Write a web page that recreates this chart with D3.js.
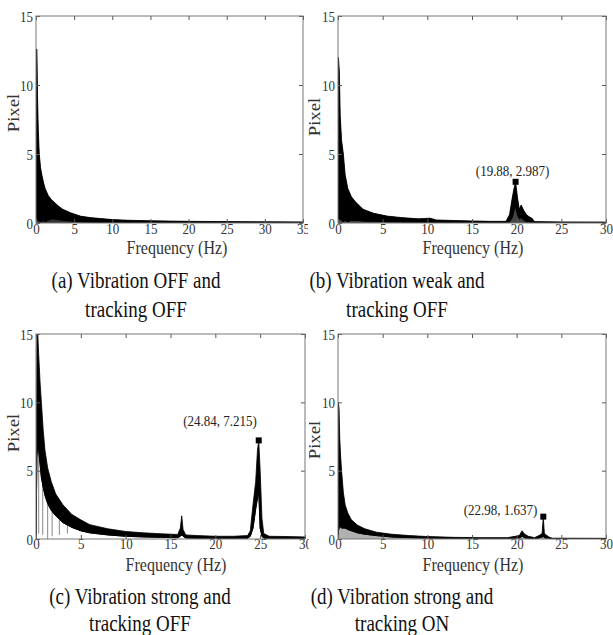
<!DOCTYPE html>
<html>
<head>
<meta charset="utf-8">
<script src="https://cdn.jsdelivr.net/npm/d3@7"></script>
<style>
  body { margin: 0; background: #fff; }
</style>
</head>
<body>
<script>
// (a) vibration OFF, tracking OFF  -- envelope of the spectrum
var freqA = [0, 0.05, 0.12, 0.2, 0.3, 0.43, 0.6, 0.8, 1.0, 1.2, 1.6, 2.0, 2.5, 3.0, 3.5, 4.5, 5.8, 7, 8.5, 10, 12, 15, 20, 25, 30, 35];
var hiA   = [0, 12.6, 12.6, 9.2, 6.8, 5.0, 4.0, 3.4, 2.9, 2.5, 2.0, 1.7, 1.45, 1.2, 1.0, 0.75, 0.5, 0.4, 0.32, 0.25, 0.2, 0.16, 0.12, 0.1, 0.09, 0.08];
var loA   = [0, 0.4, 0.4, 0.3, 0.2, 0.1, 0.1, 0.15, 0.2, 0.1, 0.2, 0.3, 0.3, 0.25, 0.2, 0.15, 0.1, 0.08, 0.06, 0.04, 0.03, 0.03, 0.02, 0.02, 0.02, 0.02];

// (b) vibration weak, tracking OFF
var freqB = [0, 0.05, 0.15, 0.25, 0.4, 0.6, 0.8, 1.1, 1.5, 2.0, 2.8, 4.0, 5.5, 7, 9, 10.3, 11, 13, 15, 17, 18.8, 19.2, 19.5, 19.7, 19.88, 20.1, 20.3, 20.5, 20.8, 21.1, 21.4, 21.7, 22, 25, 30];
var hiB   = [0, 12, 11, 7.8, 6, 5, 3.5, 2.5, 1.9, 1.5, 1.0, 0.7, 0.5, 0.4, 0.3, 0.35, 0.22, 0.18, 0.15, 0.12, 0.12, 0.6, 1.8, 2.5, 2.987, 1.8, 1.0, 1.3, 0.9, 0.6, 0.45, 0.35, 0.1, 0.08, 0.07];
var loB   = [0, 0.3, 0.3, 0.3, 0.2, 0.1, 0.2, 0.1, 0.2, 0.2, 0.15, 0.12, 0.1, 0.08, 0.06, 0.06, 0.05, 0.04, 0.04, 0.03, 0.03, 0.1, 0.4, 0.9, 1.2, 0.6, 0.3, 0.4, 0.2, 0.1, 0.08, 0.05, 0.03, 0.02, 0.02];

// (c) vibration strong, tracking OFF
var freqC = [0, 0.1, 0.2, 0.3, 0.45, 0.6, 0.8, 1.0, 1.3, 1.7, 2.2, 3.0, 4.0, 5.0, 6.0, 8.0, 10, 12, 14, 15.8, 16.1, 16.25, 16.4, 16.7, 18, 20, 22, 23.6, 23.9, 24.2, 24.5, 24.7, 24.84, 25.0, 25.2, 25.4, 26, 28, 30];
var hiC   = [0, 15, 15, 13.5, 11.5, 10, 8, 6.5, 5.2, 4.2, 3.3, 2.5, 1.8, 1.4, 1.05, 0.75, 0.55, 0.45, 0.38, 0.33, 0.8, 1.7, 0.7, 0.3, 0.25, 0.2, 0.2, 0.25, 0.6, 2.5, 4.2, 6.5, 7.215, 5.0, 1.5, 0.4, 0.2, 0.18, 0.15];
var loC   = [0, 6, 7, 6.5, 5.5, 4.5, 3.8, 3.2, 2.6, 2.1, 1.7, 1.2, 0.85, 0.6, 0.45, 0.3, 0.2, 0.15, 0.12, 0.1, 0.2, 0.3, 0.2, 0.08, 0.06, 0.05, 0.05, 0.06, 0.2, 0.8, 2.2, 3, 3.5, 0.8, 0.2, 0.06, 0.05, 0.05, 0.05];
// grey dips that drop below the dark band in (c)
var dipFreqC = [0.3, 0.75, 1.3, 1.8, 2.6, 3.5];
var dipTopC  = [6.5, 4.3, 2.7, 2.0, 1.4, 1.0];
var dipBotC  = [0.4, 0.3, 0, 0.2, 0.3, 0.4];

// (d) vibration strong, tracking ON
var freqD = [0, 0.05, 0.12, 0.2, 0.3, 0.4, 0.6, 0.8, 1.1, 1.5, 2.2, 3.0, 4.3, 6, 8, 10, 13, 16, 19, 20.3, 20.6, 20.9, 21.3, 22, 22.5, 22.85, 22.98, 23.1, 23.6, 24, 30];
var hiD   = [0, 10, 9.5, 7.3, 6, 5, 3.4, 2.5, 1.9, 1.4, 1.0, 0.75, 0.5, 0.35, 0.25, 0.18, 0.12, 0.1, 0.1, 0.25, 0.6, 0.35, 0.2, 0.1, 0.25, 0.4, 1.637, 0.4, 0.15, 0.06, 0.05];
var loD   = [0, 0.6, 0.8, 0.9, 0.9, 0.8, 0.8, 0.8, 0.7, 0.6, 0.45, 0.35, 0.25, 0.15, 0.1, 0.07, 0.05, 0.04, 0.04, 0.08, 0.2, 0.1, 0.05, 0.03, 0.08, 0.15, 0.2, 0.1, 0.05, 0.02, 0.02];

// marked peaks
var peakB = [19.88, 2.987];
var peakC = [24.84, 7.215];
var peakD = [22.98, 1.637];

var xTicks35 = [0, 5, 10, 15, 20, 25, 30, 35];
var xTicks30 = [0, 5, 10, 15, 20, 25, 30];
var yTicks = [0, 5, 10, 15];

var captions = [
    ["(a) Vibration OFF and", "tracking OFF"],
    ["(b) Vibration weak and", "tracking OFF"],
    ["(c) Vibration strong and", "tracking OFF"],
    ["(d) Vibration strong and", "tracking ON"]
];

var width = 613,
    height = 635,
    stretch = 1.17,   // the original figure is a bit taller than wide
    serif = "Liberation Serif";

function zip(f, hi, lo) {
    return f.map(function(d, i) {
        return { f: d, hi: hi[i], lo: lo[i] };
    });
}

// layout per panel: box = [left, top, right, bottom]
var panels = [
    { data: zip(freqA, hiA, loA), xMax: 35, xTicks: xTicks35, box: [36, 16, 303, 223], clip: [0, 308],
      shade: "#333", tickY: 234, titleX: 177, titleY: 254, pixX: 18.5, pixY: 113, capX: 136, capY: [288, 317] },
    { data: zip(freqB, hiB, loB), xMax: 30, xTicks: xTicks30, box: [338, 16, 606, 223], clip: [308, 613],
      shade: "#444", tickY: 234, titleX: 473, titleY: 254, pixX: 320, pixY: 117, capX: 397, capY: [288, 317],
      peak: peakB, anchor: "middle", dx: -3, dy: -6 },
    { data: zip(freqC, hiC, loC), xMax: 30, xTicks: xTicks30, box: [36, 334, 305, 539], clip: [0, 309],
      shade: "none", tickY: 549, titleX: 176, titleY: 571, pixX: 18.5, pixY: 433, capX: 140, capY: [604, 631],
      peak: peakC, anchor: "end", dx: -2, dy: -14,
      dips: dipFreqC.map(function(d, i) { return { f: d, top: dipTopC[i], bot: dipBotC[i] }; }) },
    { data: zip(freqD, hiD, loD), xMax: 30, xTicks: xTicks30, box: [338, 334, 606, 539], clip: [309, 613],
      shade: "#b0b0b0", tickY: 549, titleX: 473, titleY: 571, pixX: 320, pixY: 440, capX: 402, capY: [604, 631],
      peak: peakD, anchor: "end", dx: -6, dy: -2 }
];

var svg = d3.select("body").append("svg")
    .attr("width", width)
    .attr("height", height);

var defs = svg.append("defs");

function tr(x, y, rot) {
    return "translate(" + x + "," + y + ") scale(1," + stretch + ")" + (rot ? " rotate(-90)" : "");
}

panels.forEach(function(p, i) {
    var x = d3.scaleLinear().domain([0, p.xMax]).range([p.box[0], p.box[2]]);
    var y = d3.scaleLinear().domain([0, 15]).range([p.box[3], p.box[1]]);

    defs.append("clipPath").attr("id", "panel" + i)
        .append("rect")
        .attr("x", p.clip[0]).attr("y", 0)
        .attr("width", p.clip[1] - p.clip[0]).attr("height", height);
    defs.append("clipPath").attr("id", "plot" + i)
        .append("rect")
        .attr("x", p.box[0]).attr("y", p.box[1])
        .attr("width", p.box[2] - p.box[0]).attr("height", p.box[3] - p.box[1]);

    var g = svg.append("g").attr("clip-path", "url(#panel" + i + ")");
    var plot = g.append("g").attr("clip-path", "url(#plot" + i + ")");

    // lighter part under the dense band
    if (p.shade !== "none") {
        plot.append("path")
            .datum(p.data)
            .attr("d", d3.area()
                .x(function(d) { return x(d.f); })
                .y0(y(0))
                .y1(function(d) { return y(d.hi); }))
            .style("fill", p.shade);
    }

    if (p.dips) {
        plot.selectAll("line.dip")
            .data(p.dips)
            .enter().append("line")
            .attr("class", "dip")
            .attr("x1", function(d) { return x(d.f); })
            .attr("x2", function(d) { return x(d.f); })
            .attr("y1", function(d) { return y(d.top); })
            .attr("y2", function(d) { return y(d.bot); })
            .style("stroke", "#888")
            .style("stroke-width", 1);
    }

    // dense black band of the spectrum
    plot.append("path")
        .datum(p.data)
        .attr("d", d3.area()
            .x(function(d) { return x(d.f); })
            .y0(function(d) { return y(d.lo); })
            .y1(function(d) { return y(d.hi); }))
        .style("fill", "#000")
        .style("stroke", "#000")
        .style("stroke-width", 0.8);

    // baseline trace
    plot.append("path")
        .datum(p.data)
        .attr("d", d3.line()
            .x(function(d) { return x(d.f); })
            .y(function(d) { return y(d.lo); }))
        .style("fill", "none")
        .style("stroke", "#000")
        .style("stroke-width", 1);

    // axes: inward ticks on all four sides, labels on bottom and left
    var bottom = g.append("g")
        .attr("transform", "translate(0," + p.box[3] + ")")
        .call(d3.axisBottom(x).tickValues(p.xTicks).tickSize(-4));
    bottom.selectAll("text")
        .attr("y", null).attr("dy", null)
        .attr("transform", tr(0, p.tickY - p.box[3]));

    g.append("g")
        .attr("transform", "translate(0," + p.box[1] + ")")
        .call(d3.axisTop(x).tickValues(p.xTicks).tickSize(-4).tickFormat(""));

    var left = g.append("g")
        .attr("transform", "translate(" + p.box[0] + ",0)")
        .call(d3.axisLeft(y).tickValues(yTicks).tickSize(-4));
    left.selectAll("text")
        .attr("x", null).attr("dy", null)
        .attr("transform", tr(-3, 5));

    g.append("g")
        .attr("transform", "translate(" + p.box[2] + ",0)")
        .call(d3.axisRight(y).tickValues(yTicks).tickSize(-4).tickFormat(""));

    g.selectAll(".domain").remove();
    g.selectAll("g").attr("font-family", serif);
    g.selectAll(".tick line").style("stroke", "#555");
    g.selectAll(".tick text")
        .style("font-family", serif)
        .style("font-size", "13px")
        .style("fill", "#333");

    g.append("rect")
        .attr("x", p.box[0]).attr("y", p.box[1])
        .attr("width", p.box[2] - p.box[0]).attr("height", p.box[3] - p.box[1])
        .style("fill", "none")
        .style("stroke", "#777")
        .style("stroke-width", 1);

    g.append("text")
        .attr("transform", tr(p.titleX, p.titleY))
        .attr("text-anchor", "middle")
        .style("font-family", serif)
        .style("font-size", "16px")
        .style("fill", "#333")
        .text("Frequency (Hz)");

    g.append("text")
        .attr("transform", tr(p.pixX, p.pixY, true))
        .attr("text-anchor", "middle")
        .style("font-family", serif)
        .style("font-size", "16px")
        .style("fill", "#333")
        .text("Pixel");

    if (p.peak) {
        g.append("rect")
            .attr("x", x(p.peak[0]) - 3)
            .attr("y", y(p.peak[1]) - 3)
            .attr("width", 6)
            .attr("height", 6)
            .style("fill", "#000");
        g.append("text")
            .attr("transform", tr(x(p.peak[0]) + p.dx, y(p.peak[1]) + p.dy))
            .attr("text-anchor", p.anchor)
            .style("font-family", serif)
            .style("font-size", "13px")
            .style("fill", "#222")
            .text("(" + p.peak[0].toFixed(2) + ", " + p.peak[1].toFixed(3) + ")");
    }

    // caption under the panel
    svg.selectAll("text.cap" + i)
        .data(captions[i])
        .enter().append("text")
        .attr("class", "cap" + i)
        .attr("transform", function(d, k) { return tr(p.capX, p.capY[k]); })
        .attr("text-anchor", "middle")
        .style("font-family", serif)
        .style("font-size", "19px")
        .style("fill", "#111")
        .text(function(d) { return d; });
});
</script>
</body>
</html>
